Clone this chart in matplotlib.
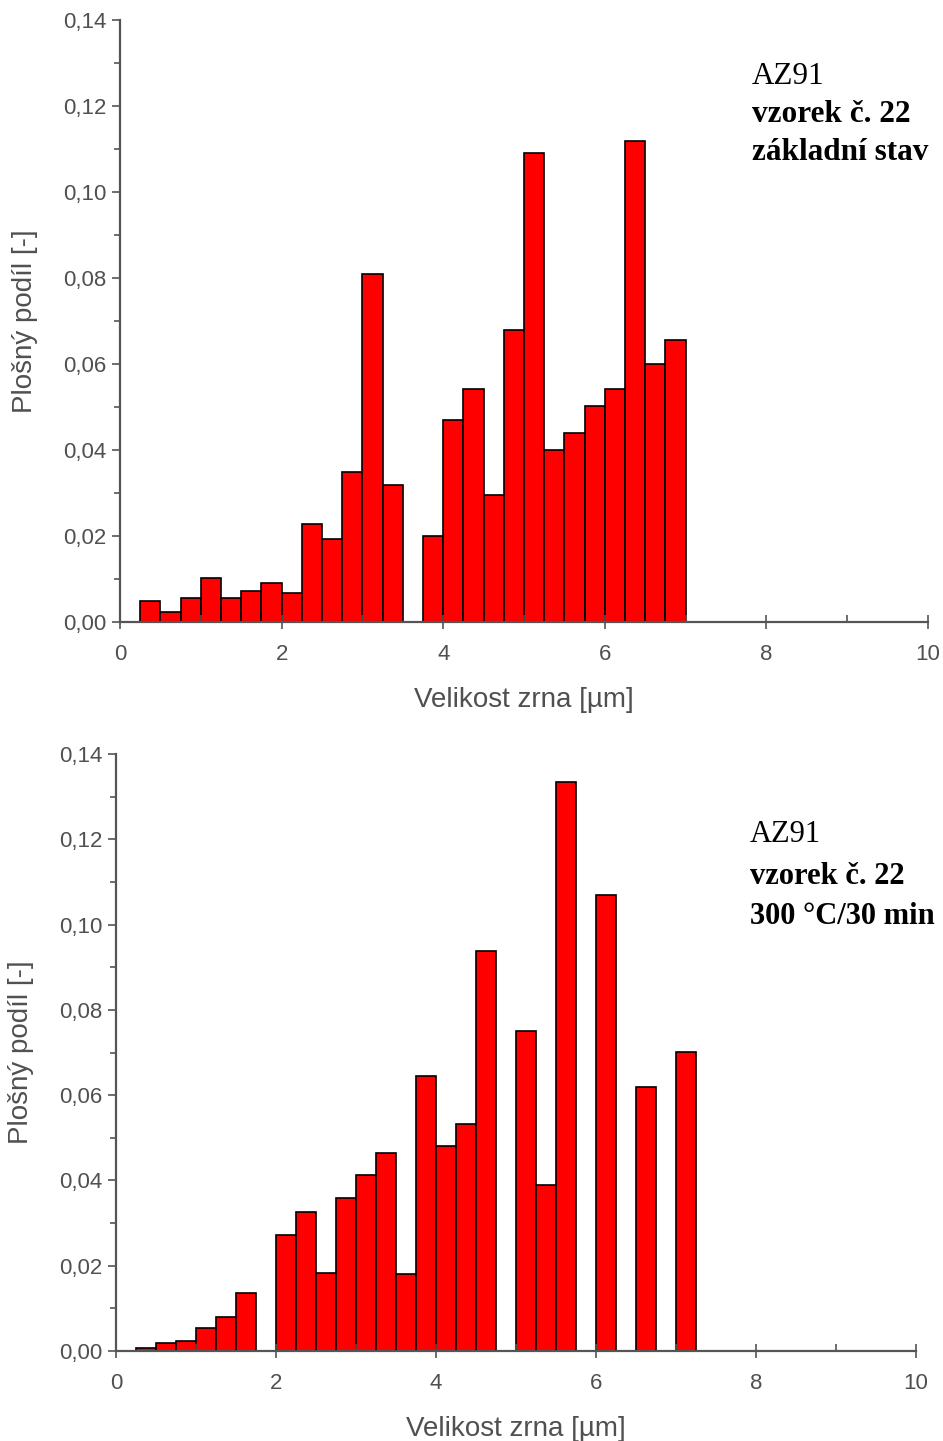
import matplotlib
matplotlib.use("Agg")
import matplotlib.pyplot as plt
from matplotlib.ticker import MultipleLocator, FuncFormatter

# ---- data ----
bin_width = 0.25
top_left_edges = [0.25, 0.5, 0.75, 1.0, 1.25, 1.5, 1.75, 2.0, 2.25, 2.5, 2.75, 3.0, 3.25, 3.5,
                  3.75, 4.0, 4.25, 4.5, 4.75, 5.0, 5.25, 5.5, 5.75, 6.0, 6.25, 6.5, 6.75]
top_values = [0.0049, 0.0024, 0.0056, 0.0103, 0.0056, 0.0073, 0.0091, 0.0067, 0.0227, 0.0193,
              0.0349, 0.0810, 0.0318, 0.0, 0.0200, 0.0470, 0.0542, 0.0296, 0.0680, 0.1090,
              0.0399, 0.0440, 0.0502, 0.0542, 0.1118, 0.0600, 0.0655]

bot_left_edges = [0.25, 0.5, 0.75, 1.0, 1.25, 1.5, 1.75, 2.0, 2.25, 2.5, 2.75, 3.0, 3.25, 3.5,
                  3.75, 4.0, 4.25, 4.5, 4.75, 5.0, 5.25, 5.5, 5.75, 6.0, 6.25, 6.5, 6.75, 7.0]
bot_values = [0.0008, 0.0018, 0.0023, 0.0053, 0.0079, 0.0136, 0.0, 0.0273, 0.0326, 0.0184,
              0.0358, 0.0413, 0.0465, 0.0180, 0.0645, 0.0480, 0.0533, 0.0937, 0.0, 0.0750,
              0.0390, 0.1335, 0.0, 0.1070, 0.0, 0.0620, 0.0, 0.0701]

x_ticks = [0, 2, 4, 6, 8, 10]
y_ticks = [0.0, 0.02, 0.04, 0.06, 0.08, 0.10, 0.12, 0.14]

xlabel = "Velikost zrna [\u00b5m]"
ylabel = "Plošný podíl [-]"
top_text = ["AZ91", "vzorek č. 22", "základní stav"]
bot_text = ["AZ91", "vzorek č. 22", "300 °C/30 min"]

plt.rcParams['font.family'] = ['Liberation Sans', 'DejaVu Sans']

W, H = 943, 1441
fig = plt.figure(figsize=(W / 100, H / 100), dpi=100)
fig.patch.set_facecolor("white")

axis_color = "#555555"
label_color = "#505050"


def style_axes(ax):
    for s in ["top", "right"]:
        ax.spines[s].set_visible(False)
    for s in ["left", "bottom"]:
        ax.spines[s].set_color(axis_color)
        ax.spines[s].set_linewidth(1.6)
    ax.set_xlim(0, 10)
    ax.set_ylim(0, 0.14)
    ax.set_xticks(x_ticks)
    ax.set_xticklabels([str(t) for t in x_ticks])
    ax.xaxis.set_minor_locator(MultipleLocator(1))
    ax.set_yticks(y_ticks)
    ax.yaxis.set_major_formatter(FuncFormatter(lambda v, p: f"{v:.2f}".replace(".", ",")))
    ax.yaxis.set_minor_locator(MultipleLocator(0.01))
    ax.tick_params(axis="x", which="major", direction="inout", length=10, width=1.2,
                   color=axis_color, labelsize=16, labelcolor=label_color, pad=11)
    ax.tick_params(axis="x", which="minor", direction="in", length=5, width=1.2, color=axis_color)
    ax.tick_params(axis="y", which="major", direction="out", length=6, width=1.2,
                   color=axis_color, labelsize=16, labelcolor=label_color, pad=4)
    ax.tick_params(axis="y", which="minor", direction="out", length=4, width=1.2, color=axis_color)
    ax.set_xlabel(xlabel, fontsize=20, color=label_color, labelpad=16)
    ax.set_ylabel(ylabel, fontsize=20, color=label_color, labelpad=18)


# top axes
ax1 = fig.add_axes([120 / W, 1 - 622 / H, 808 / W, 602 / H])
ax1.bar(top_left_edges, top_values, width=bin_width, align="edge",
        color="#ff0000", edgecolor="black", linewidth=1.2)
style_axes(ax1)
for i, t in enumerate(top_text):
    ax1.text(752 / W, 1 - (76 + 38 * i) / H, t, transform=fig.transFigure,
             fontsize=22.5, family=['Liberation Serif', 'DejaVu Serif'],
             fontweight="normal" if i == 0 else "bold", va="center", ha="left", color="black")

# bottom axes
ax2 = fig.add_axes([116 / W, 1 - 1351 / H, 800 / W, 597 / H])
ax2.bar(bot_left_edges, bot_values, width=bin_width, align="edge",
        color="#ff0000", edgecolor="black", linewidth=1.2)
style_axes(ax2)
for i, t in enumerate(bot_text):
    ax2.text(750 / W, 1 - (835 + 41 * i) / H, t, transform=fig.transFigure,
             fontsize=22, family=['Liberation Serif', 'DejaVu Serif'],
             fontweight="normal" if i == 0 else "bold", va="center", ha="left", color="black")

fig.savefig("out.png", dpi=100, facecolor="white")
